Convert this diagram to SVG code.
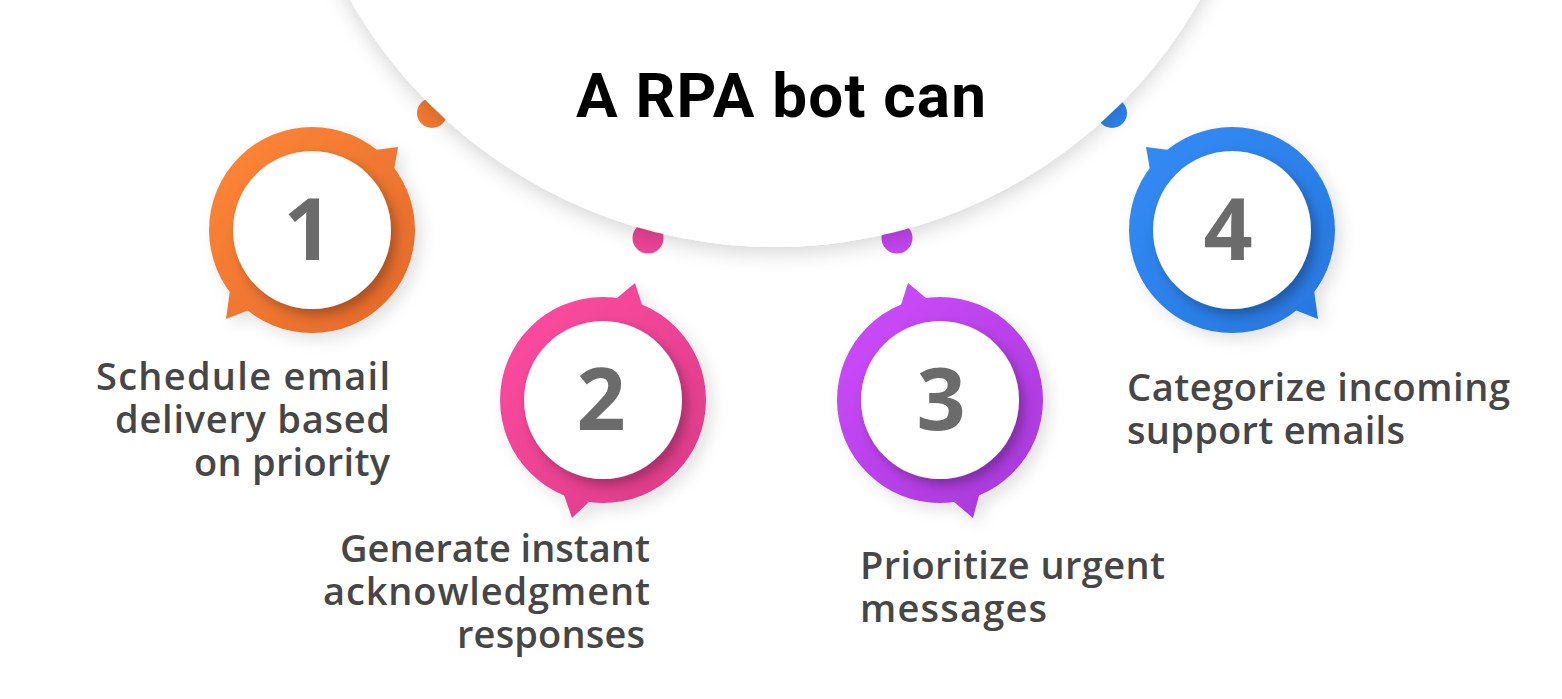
<svg xmlns="http://www.w3.org/2000/svg" width="1562" height="699" viewBox="0 0 1562 699">
  <style>
    .body { font-family: "Open Sans", "Liberation Sans", sans-serif; font-weight: 600; font-size: 38px; fill: #464646; }
    .num { font-family: "Open Sans", "Liberation Sans", sans-serif; font-weight: 700; font-size: 86px; fill: #6b6b6b; text-anchor: middle; }
    .title { font-family: Roboto, "Liberation Sans", sans-serif; font-weight: 700; font-size: 62px; fill: #000; }
    .inner { fill: #fff; filter: url(#innerShadow); }
    .ring { filter: url(#outerShadow); }
  </style>
  <defs>
    <filter id="bigShadow" x="-20%" y="-20%" width="140%" height="140%">
      <feDropShadow dx="0" dy="6" stdDeviation="10" flood-color="#000" flood-opacity="0.16"/>
    </filter>
    <filter id="outerShadow" x="-30%" y="-30%" width="160%" height="160%">
      <feDropShadow dx="6" dy="6" stdDeviation="8" flood-color="#000" flood-opacity="0.12"/>
    </filter>
    <filter id="innerShadow" x="-30%" y="-30%" width="160%" height="160%">
      <feDropShadow dx="5" dy="6" stdDeviation="6" flood-color="#000" flood-opacity="0.28"/>
    </filter>
    <linearGradient id="gOrange" gradientUnits="userSpaceOnUse" x1="209" y1="127" x2="415" y2="333">
      <stop offset="0" stop-color="#FF8838"/>
      <stop offset="1" stop-color="#E2672A"/>
    </linearGradient>
    <linearGradient id="gPink" gradientUnits="userSpaceOnUse" x1="500" y1="297" x2="706" y2="503">
      <stop offset="0" stop-color="#FF4CA0"/>
      <stop offset="1" stop-color="#DA3B88"/>
    </linearGradient>
    <linearGradient id="gPurple" gradientUnits="userSpaceOnUse" x1="837" y1="297" x2="1043" y2="503">
      <stop offset="0" stop-color="#CE4CFC"/>
      <stop offset="1" stop-color="#A638D8"/>
    </linearGradient>
    <linearGradient id="gBlue" gradientUnits="userSpaceOnUse" x1="1129" y1="127" x2="1335" y2="333">
      <stop offset="0" stop-color="#338CF5"/>
      <stop offset="1" stop-color="#2776DE"/>
    </linearGradient>
  </defs>

  <rect x="0" y="0" width="1562" height="699" fill="#fff"/>

  <!-- small connector dots behind the big circle -->
  <g id="connectors">
    <circle cx="432" cy="113" r="15" fill="#F47A32"/>
    <circle cx="648" cy="238" r="15.5" fill="#EC4496"/>
    <circle cx="897" cy="238" r="15.5" fill="#C246F0"/>
    <circle cx="1112" cy="113" r="15" fill="#2E83EC"/>
  </g>

  <g id="title">
    <circle cx="775" cy="-242" r="489" fill="#fff" filter="url(#bigShadow)"/>
    <text class="title" x="576" y="117" textLength="410">A RPA bot can</text>
  </g>

  <!-- Node 1 -->
  <g id="node1">
    <g class="ring" fill="url(#gOrange)">
      <circle cx="312" cy="230" r="103"/>
      <polygon points="375,150 398,147 394,170"/>
      <polygon points="249,310 226,319 230,290"/>
    </g>
    <circle class="inner" cx="312" cy="230" r="79"/>
    <text class="num" x="308" y="260">1</text>
    <text class="body">
      <tspan x="96" y="390" textLength="294">Schedule email</tspan>
      <tspan x="115" y="433" textLength="275">delivery based</tspan>
      <tspan x="194" y="476" textLength="196">on priority</tspan>
    </text>
  </g>

  <!-- Node 2 -->
  <g id="node2">
    <g class="ring" fill="url(#gPink)">
      <circle cx="603" cy="400" r="103"/>
      <polygon points="617,298 635,283 643,308"/>
      <polygon points="589,502 572,518 563,492"/>
    </g>
    <circle class="inner" cx="603" cy="400" r="79"/>
    <text class="num" x="601" y="430">2</text>
    <text class="body">
      <tspan x="340" y="562" textLength="310">Generate instant</tspan>
      <tspan x="323" y="605" textLength="327">acknowledgment</tspan>
      <tspan x="457" y="648" textLength="188">responses</tspan>
    </text>
  </g>

  <!-- Node 3 -->
  <g id="node3">
    <g class="ring" fill="url(#gPurple)">
      <circle cx="940" cy="400" r="103"/>
      <polygon points="926,298 908,283 900,308"/>
      <polygon points="954,502 973,518 980,492"/>
    </g>
    <circle class="inner" cx="940" cy="400" r="79"/>
    <text class="num" x="941" y="430">3</text>
    <text class="body">
      <tspan x="860" y="579" textLength="305">Prioritize urgent</tspan>
      <tspan x="860" y="622" textLength="187">messages</tspan>
    </text>
  </g>

  <!-- Node 4 -->
  <g id="node4">
    <g class="ring" fill="url(#gBlue)">
      <circle cx="1232" cy="230" r="103"/>
      <polygon points="1169,150 1146,147 1150,170"/>
      <polygon points="1295,310 1318,319 1314,290"/>
    </g>
    <circle class="inner" cx="1232" cy="230" r="79"/>
    <text class="num" x="1228" y="260">4</text>
    <text class="body">
      <tspan x="1127" y="401" textLength="383">Categorize incoming</tspan>
      <tspan x="1127" y="444" textLength="278">support emails</tspan>
    </text>
  </g>
</svg>
